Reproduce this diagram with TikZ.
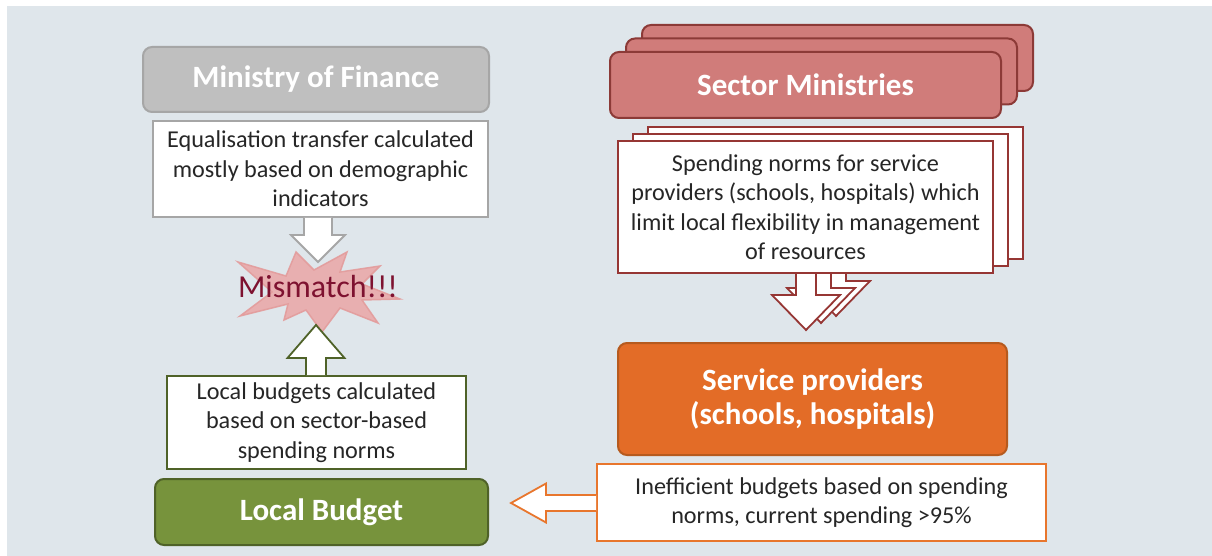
\documentclass[tikz,border=0pt]{standalone}
\usepackage{fontspec}
\setmainfont{Carlito}
\usetikzlibrary{calc}
\definecolor{BgBlue}{HTML}{DFE6EB}
\definecolor{MofFill}{HTML}{BFBFBF}
\definecolor{MofLine}{HTML}{A6A6A6}
\definecolor{SecFill}{HTML}{D07C7A}
\definecolor{SecLine}{HTML}{8C3A37}
\definecolor{NormLine}{HTML}{963634}
\definecolor{GreenFill}{HTML}{77933C}
\definecolor{GreenLine}{HTML}{4F6228}
\definecolor{OrgFill}{HTML}{E36C27}
\definecolor{OrgLine}{HTML}{B65A1E}
\definecolor{IneffLine}{HTML}{E8762D}
\definecolor{BoomFill}{HTML}{E9AAAA}
\definecolor{BoomLine}{HTML}{E39C9C}
\definecolor{BoomText}{HTML}{7E1230}
\definecolor{TxtDark}{HTML}{262626}
\newcommand\headfont{\fontsize{31}{34}\selectfont\bfseries}
\newcommand\bodyfont{\fontsize{24.2}{29.5}\selectfont}
% vertical block arrow: style, from, tip, shaft half, head half, head length (signed)
\newcommand\fatvert[6]{%
  \draw[#1] let \p1=(#2), \p2=(#3) in
    ({\x2-#4},\y1) -- ({\x2-#4},{\y2+(#6)}) -- ({\x2-#5},{\y2+(#6)}) -- (\x2,\y2)
    -- ({\x2+#5},{\y2+(#6)}) -- ({\x2+#4},{\y2+(#6)}) -- ({\x2+#4},\y1);}

\begin{document}
\begin{tikzpicture}[x=1pt,y=-1pt,
  headbox/.style={rounded corners=9pt, line width=2pt, text=white, font=\headfont,
    align=center, inner sep=0pt},
  notebox/.style={fill=white, line width=1.8pt, align=center, inner sep=0pt,
    font=\bodyfont, text=TxtDark},
  fatarrow/.style={fill=white, line width=1.8pt, line join=miter}]
  \useasboundingbox (0,0) rectangle (1212,556);
  \fill[BgBlue] (7,6) rectangle (1212,556);

  % left column
  \node[headbox, fill=MofFill, draw=MofLine, minimum width=346pt, minimum height=65pt]
    (mof) at (316,79.5) {Ministry of Finance};
  \node[notebox, draw=MofLine, minimum width=335pt, minimum height=96pt]
    (equal) at (320.5,169) {Equalisation transfer calculated\\mostly based on demographic\\indicators};
  \coordinate (gtip) at (318,262);
  \fatvert{fatarrow, draw=MofLine}{equal.south}{gtip}{14pt}{27pt}{27pt}

  % explosion
  \fill[BoomFill, draw=BoomLine, line width=1.5pt, opacity=0.9]
    (238,262) -- (286,276) -- (296,252) -- (314,270) -- (347,252) -- (340,272)
    -- (380,266) -- (362,284) -- (400,299) -- (362,300) -- (378,323) -- (340,308)
    -- (322,332) -- (306,310) -- (284,320) -- (288,304) -- (240,316) -- (272,292) -- cycle;
  \node[text=BoomText, font=\fontsize{32}{34}\selectfont, inner sep=0pt]
    (boom) at (318,287) {Mismatch!!!};

  \node[notebox, draw=GreenLine, minimum width=299pt, minimum height=93pt]
    (lbtext) at (316.5,422.5) {Local budgets calculated\\based on sector-based\\spending norms};
  \coordinate (utip) at (316,325);
  \fatvert{fatarrow, draw=GreenLine}{lbtext.north}{utip}{10pt}{28.5pt}{-33pt}
  \node[headbox, fill=GreenFill, draw=GreenLine, minimum width=333pt, minimum height=66pt]
    (local) at (321.5,512) {Local Budget};

  % right column: stacked ministries
  \foreach \dx/\dy in {32/-27,16/-13.5}{
    \draw[SecLine, fill=SecFill, line width=2pt, rounded corners=9pt]
      (610+\dx,52+\dy) rectangle (1001+\dx,118+\dy);}
  \node[headbox, fill=SecFill, draw=SecLine, minimum width=391pt, minimum height=66pt]
    (sector) at (805.5,85) {Sector Ministries};

  % stacked norms with arrows
  \foreach \dx/\dy/\k in {30/-14/c,15/-7/b,0/0/a}{
    \begin{scope}[shift={(\dx,\dy)}]
      \coordinate (ntop\k) at (806,273);
      \coordinate (ntip\k) at (806,330);
      \fatvert{fatarrow, draw=NormLine}{ntop\k}{ntip\k}{10pt}{34pt}{35pt}
      \node[notebox, draw=NormLine, minimum width=375pt, minimum height=132pt]
        (norms\k) at (805.5,207) {};
    \end{scope}}
  \node[font=\bodyfont, text=TxtDark, align=center] at (normsa)
    {Spending norms for service\\providers (schools, hospitals) which\\limit local flexibility in management\\of resources};

  \node[headbox, fill=OrgFill, draw=OrgLine, minimum width=389pt, minimum height=112pt]
    (service) at (812.5,399) {Service providers\\(schools, hospitals)};
  \node[notebox, draw=IneffLine, minimum width=449pt, minimum height=77pt]
    (ineff) at (821.5,502.5) {Inefficient budgets based on spending\\norms, current spending >95\%};
  \coordinate (ltip) at (511,503);
  \draw[fatarrow, draw=IneffLine] let \p1=(ineff.west), \p2=(ltip) in
    (\x1,{\y2+8pt}) -- ({\x2+35pt},{\y2+8pt}) -- ({\x2+35pt},{\y2+19.5pt}) -- (\x2,\y2)
    -- ({\x2+35pt},{\y2-19.5pt}) -- ({\x2+35pt},{\y2-8pt}) -- (\x1,{\y2-8pt});
\end{tikzpicture}
\end{document}
